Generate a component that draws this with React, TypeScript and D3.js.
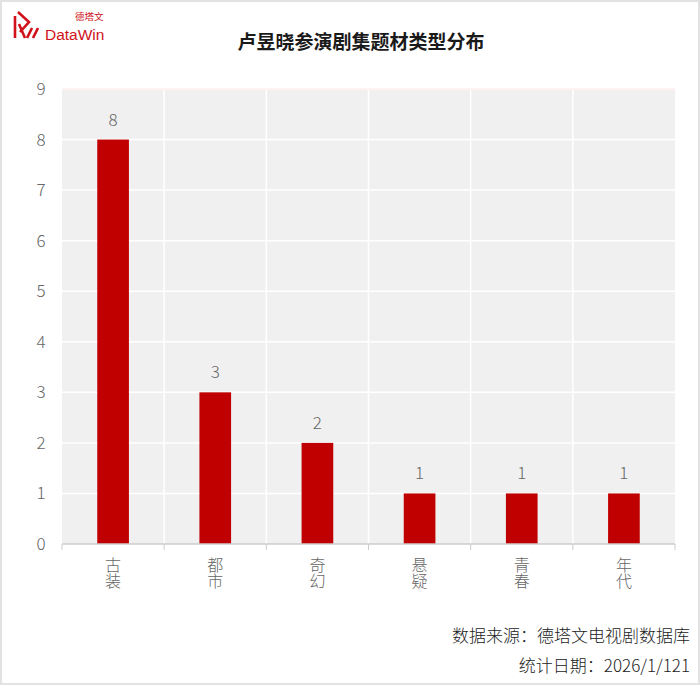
import React from "react";
import * as d3 from "d3";

const categories = ["古装", "都市", "奇幻", "悬疑", "青春", "年代"];
const values = [8, 3, 2, 1, 1, 1];
const yTicks = [0, 1, 2, 3, 4, 5, 6, 7, 8, 9];
const title = "卢昱晓参演剧集题材类型分布";
const footer1 = "数据来源：德塔文电视剧数据库";
const footer2 = "统计日期：2026/1/121";

const W = 700;
const H = 685;
const m = { left: 62, right: 675, top: 89, bottom: 544 };
const FONT = "'Noto Sans CJK SC', 'Noto Sans', sans-serif";

export default function App() {
  const x = d3.scaleBand<string>().domain(categories).range([m.left, m.right]).padding(0);
  const y = d3.scaleLinear().domain([0, 9]).range([m.bottom, m.top]);
  const bw = x.bandwidth() * 0.31;
  const bounds = categories.map((c) => x(c) as number).concat([m.right]);

  return (
    <svg
      width={W}
      height={H}
      style={{ position: "absolute", left: 0, top: 0, background: "#fff" }}
      fontFamily={FONT}
    >
      <defs>
        <linearGradient id="lg" x1="0" y1="1" x2="0" y2="0">
          <stop offset="0" stopColor="#ff7f7f" />
          <stop offset="1" stopColor="#ffe6e6" />
        </linearGradient>
      </defs>
      <rect x={1} y={1} width={W - 2} height={H - 2} fill="#fff" stroke="#e2e2e2" strokeWidth={2} />

      {/* logo */}
      <g fill="none" stroke="#d0121b" strokeWidth={2.6} strokeLinecap="butt">
        <path d="M15 16 L15 38" />
        <path d="M18 12 L29 22 L20 32" />
        <path d="M19 24 L25 38" />
        <path d="M27 38 L32 28" />
        <path d="M33 38 L38 28" />
      </g>
      <text x={45} y={40} fontSize={15.5} fill="#d0121b" fontFamily="'Liberation Sans', Arial, sans-serif">DataWin</text>
      <text x={75} y={20} fontSize={9.5} fill="#d0121b">德塔文</text>

      <text x={361} y={49} textAnchor="middle" fontSize={19} fontWeight="bold" fill="#1a1a1a">
        {title}
      </text>

      {/* plot background */}
      <rect x={m.left} y={m.top} width={m.right - m.left} height={m.bottom - m.top} fill="#f0f0f0" />
      {yTicks.slice(1).map((t) => (
        <line key={"h" + t} x1={m.left} x2={m.right} y1={y(t)} y2={y(t)} stroke="#fff" strokeWidth={1.5} />
      ))}
      {bounds.slice(1, -1).map((b, i) => (
        <line key={"v" + i} x1={b} x2={b} y1={m.top} y2={m.bottom} stroke="#fff" strokeWidth={1.5} />
      ))}
      <line x1={m.left} x2={m.right} y1={m.top} y2={m.top} stroke="#ffe8e8" strokeWidth={1} />
      <line x1={m.right} x2={m.right} y1={m.top} y2={m.bottom} stroke="url(#lg)" strokeWidth={1.5} />
      <line x1={m.left} x2={m.left} y1={m.top} y2={m.bottom} stroke="url(#lg)" strokeWidth={1.5} />

      {/* bars */}
      {categories.map((c, i) => {
        const cx = (x(c) as number) + x.bandwidth() / 2;
        return (
          <g key={c}>
            <rect x={cx - bw / 2} y={y(values[i])} width={bw} height={m.bottom - y(values[i])} fill="#c00000" />
            <text x={cx} y={y(values[i]) - 14} textAnchor="middle" fontSize={17} fontWeight={300} fill="#666">
              {values[i]}
            </text>
            <text
              x={cx}
              y={557}
              fontSize={16}
              fontWeight={300}
              fill="#666"
              style={{ writingMode: "vertical-rl", textOrientation: "upright" } as React.CSSProperties}
            >
              {c}
            </text>
          </g>
        );
      })}

      {/* x axis */}
      <line x1={m.left} x2={m.right} y1={m.bottom} y2={m.bottom} stroke="#ccc" strokeWidth={1.5} />
      {bounds.map((b, i) => (
        <line key={"t" + i} x1={b} x2={b} y1={m.bottom} y2={m.bottom + 6} stroke="#ccc" strokeWidth={1} />
      ))}

      {yTicks.map((t) => (
        <text key={"y" + t} x={41} y={y(t) + 6} textAnchor="middle" fontSize={17} fontWeight={300} fill="#666">
          {t}
        </text>
      ))}

      <text x={690} y={642} textAnchor="end" fontSize={17} fontWeight={300} fill="#222">{footer1}</text>
      <text x={690} y={672} textAnchor="end" fontSize={17} fontWeight={300} fill="#222">{footer2}</text>
    </svg>
  );
}
